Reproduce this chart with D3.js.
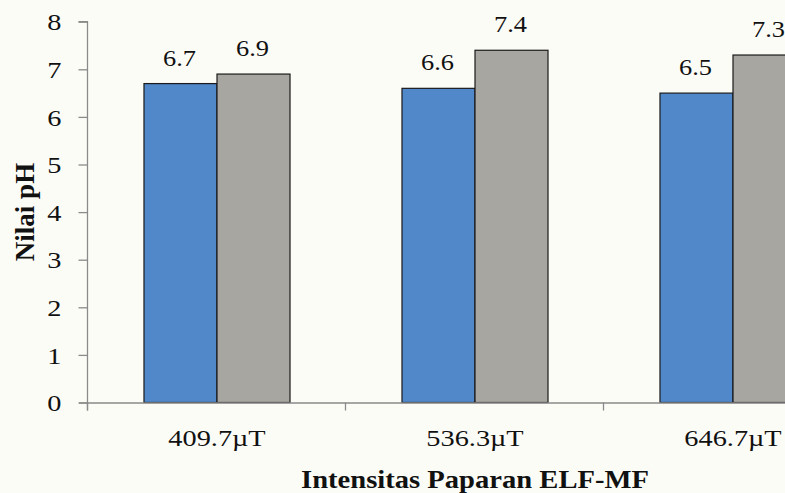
<!DOCTYPE html>
<html>
<head>
<meta charset="utf-8">
<script src="https://cdn.jsdelivr.net/npm/d3@7/dist/d3.min.js"></script>
<style>
  html, body { margin: 0; padding: 0; background: #fcfcf7; }
  svg { display: block; }
  text { font-family: "Liberation Serif", "Times New Roman", serif; fill: #111; }
</style>
</head>
<body>
<svg id="chart" width="785" height="493"></svg>
<script>
// pH values per magnetic-field intensity, two measurement series
const categories = ["409.7\u00B5T", "536.3\u00B5T", "646.7\u00B5T"];
const seriesA = [6.7, 6.6, 6.5];
const seriesB = [6.9, 7.4, 7.3];
const yTicks = [0, 1, 2, 3, 4, 5, 6, 7, 8];
const yTitle = "Nilai pH";
const xTitle = "Intensitas Paparan ELF-MF";

const svg = d3.select("#chart");
const W = 785, H = 493;
const plot = { left: 88, right: 862, top: 21.7, bottom: 402.5 };
const stretch = 1.18;      // glyphs are drawn slightly wide
const valStretch = 1.1;

svg.append("rect").attr("width", W).attr("height", H).attr("fill", "#fcfcf7");

const x0 = d3.scaleBand().domain(categories).range([plot.left, plot.right]).padding(0);
const groupW = x0.bandwidth() * 0.566;
const x1 = d3.scaleBand().domain(["a", "b"]).range([0, groupW]).padding(0);
const y = d3.scaleLinear().domain([0, 8]).range([plot.bottom, plot.top]);

const colors = { a: "#5088ca", b: "#a7a6a1" };

// bars
const groups = svg.append("g").selectAll("g")
  .data(categories.map((c, i) => ({ c, vals: [{ k: "a", v: seriesA[i] }, { k: "b", v: seriesB[i] }] })))
  .join("g")
  .attr("transform", d => `translate(${x0(d.c) + (x0.bandwidth() - groupW) / 2},0)`);

groups.selectAll("rect")
  .data(d => d.vals)
  .join("rect")
  .attr("x", d => x1(d.k))
  .attr("y", d => y(d.v))
  .attr("width", x1.bandwidth())
  .attr("height", d => y(0) - y(d.v))
  .attr("fill", d => colors[d.k])
  .attr("stroke", "#1a1a1a")
  .attr("stroke-width", 1.2);

// value labels
groups.selectAll("text.val")
  .data(d => d.vals)
  .join("text")
  .attr("class", "val")
  .attr("text-anchor", "middle")
  .attr("font-size", 24)
  .attr("transform", d => `translate(${x1(d.k) + x1.bandwidth() / 2 - 1},${y(d.v) - 18}) scale(${valStretch},1)`)
  .text(d => d3.format(".1f")(d.v));

// y axis
const yAxis = d3.axisLeft(y).tickValues(yTicks).tickSize(9).tickPadding(15).tickFormat(d3.format("d"));
const gy = svg.append("g").attr("transform", `translate(${plot.left - 0.5},0)`).call(yAxis);
gy.select(".domain").attr("stroke", "#8a8a8a").attr("stroke-width", 1.3)
  .attr("d", `M-9,${plot.top}H0V${plot.bottom + 8}`);
gy.selectAll(".tick line").attr("stroke", "#8a8a8a").attr("stroke-width", 1.3);
gy.selectAll(".tick text")
  .attr("font-size", 24)
  .attr("font-family", "Liberation Serif, serif")
  .attr("fill", "#111")
  .attr("dy", "0.34em")
  .attr("x", null)
  .attr("transform", `translate(-26,0) scale(${stretch},1)`);

// x axis line with boundary ticks
const bounds = categories.map(c => x0(c)).concat([plot.right]);
const gx = svg.append("g");
gx.append("line")
  .attr("x1", plot.left - 9).attr("x2", plot.right)
  .attr("y1", plot.bottom + 0.5).attr("y2", plot.bottom + 0.5)
  .attr("stroke", "#8a8a8a").attr("stroke-width", 1.3);
gx.selectAll("line.b")
  .data(bounds)
  .join("line")
  .attr("class", "b")
  .attr("x1", d => d - 0.5).attr("x2", d => d - 0.5)
  .attr("y1", plot.bottom).attr("y2", plot.bottom + 8)
  .attr("stroke", "#8a8a8a").attr("stroke-width", 1.3);

// category labels
gx.selectAll("text")
  .data(categories)
  .join("text")
  .attr("text-anchor", "middle")
  .attr("font-size", 24)
  .attr("transform", d => `translate(${x0(d) + x0.bandwidth() / 2},446) scale(${stretch},1)`)
  .text(d => d);

// axis titles
svg.append("text")
  .attr("text-anchor", "middle")
  .attr("font-size", 26)
  .attr("font-weight", "bold")
  .attr("transform", `translate(${(plot.left + plot.right) / 2},488) scale(1.1,1)`)
  .text(xTitle);

svg.append("text")
  .attr("text-anchor", "middle")
  .attr("font-size", 27)
  .attr("font-weight", "bold")
  .attr("transform", `translate(34,212) rotate(-90)`)
  .text(yTitle);
</script>
</body>
</html>
